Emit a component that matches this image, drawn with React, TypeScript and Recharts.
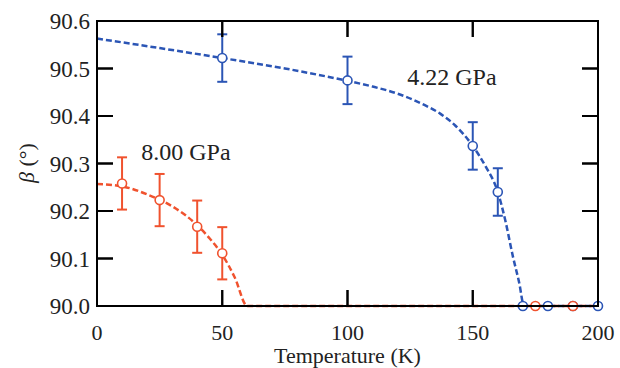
import { ComposedChart, Line, Scatter, ErrorBar, XAxis, YAxis, ReferenceDot } from 'recharts';

// measured points (T in K, beta in degrees)
const bluePressure = '4.22 GPa';
const blueT = [50, 100, 150, 160, 170, 180, 190, 200];
const blueBeta = [90.522, 90.475, 90.337, 90.24, 90.0, 90.0, 90.0, 90.0];
const blueErr = [0.05, 0.05, 0.05, 0.05, 0, 0, 0, 0];

const orangePressure = '8.00 GPa';
const orangeT = [10, 25, 40, 50, 175, 190];
const orangeBeta = [90.258, 90.223, 90.167, 90.111, 90.0, 90.0];
const orangeErr = [0.055, 0.055, 0.055, 0.055, 0, 0];

// dashed guide curves
const blueCurveT = [0, 25, 50, 75, 100, 110, 120, 130, 137, 143, 150, 155, 160, 163, 166, 168.5, 170.5, 200];
const blueCurveBeta = [90.563, 90.543, 90.522, 90.5, 90.474, 90.462, 90.447, 90.425, 90.405, 90.38, 90.337, 90.295, 90.24, 90.18, 90.105, 90.05, 90.0, 90.0];
const orangeCurveT = [0, 10, 20, 30, 40, 45, 50, 55, 60, 200];
const orangeCurveBeta = [90.257, 90.252, 90.235, 90.21, 90.17, 90.142, 90.108, 90.06, 90.0, 90.0];

const xTicks = [0, 50, 100, 150, 200];
const yTicks = [90.0, 90.1, 90.2, 90.3, 90.4, 90.5, 90.6];
const xDomain = [0, 200];
const yDomain = [90.0, 90.6];

const BLUE = '#2b55b5';
const ORANGE = '#f0522e';
const FONT = '"Liberation Serif", "DejaVu Serif", serif';
const TICK = 16;
const W = 620;
const H = 368;
const margin = { top: 1, right: 2, bottom: 0, left: 0 };
const Y_AXIS_W = 97;
const X_AXIS_H = 62;
const MIRROR = 20; // size of the top / right mirror axes
const frame = { stroke: '#000', strokeWidth: 2 };
const tickLine = { stroke: '#000', strokeWidth: 2 };

const zip = (t: number[], b: number[], e?: number[]) =>
  t.map((x, i) => ({ t: x, beta: b[i], err: e ? e[i] : 0 }));

const blueData = zip(blueT, blueBeta, blueErr);
const orangeData = zip(orangeT, orangeBeta, orangeErr);
const blueCurve = zip(blueCurveT, blueCurveBeta);
const orangeCurve = zip(orangeCurveT, orangeCurveBeta);

// plot box, from the margins and axis sizes above
const PL = margin.left + Y_AXIS_W;
const PR = W - margin.right - MIRROR;
const PT = margin.top + MIRROR;
const PB = H - margin.bottom - X_AXIS_H;
const sx = (v: number) => PL + ((v - xDomain[0]) / (xDomain[1] - xDomain[0])) * (PR - PL);
const sy = (v: number) => PB - ((v - yDomain[0]) / (yDomain[1] - yDomain[0])) * (PB - PT);

// closed box with inward ticks on all four sides, laid over the chart
const Frame = () => (
  <svg width={W} height={H} style={{ position: 'absolute', left: 0, top: 0, pointerEvents: 'none' }}>
    <g stroke="#000" strokeWidth={2} fill="none">
      <rect x={PL} y={PT} width={PR - PL} height={PB - PT} />
      {xTicks.slice(1, -1).map((v) => (
        <g key={`x${v}`}>
          <line x1={sx(v)} y1={PB} x2={sx(v)} y2={PB - TICK} />
          <line x1={sx(v)} y1={PT} x2={sx(v)} y2={PT + TICK} />
        </g>
      ))}
      {yTicks.slice(1, -1).map((v) => (
        <g key={`y${v}`}>
          <line x1={PL} y1={sy(v)} x2={PL + TICK} y2={sy(v)} />
          <line x1={PR} y1={sy(v)} x2={PR - TICK} y2={sy(v)} />
        </g>
      ))}
    </g>
  </svg>
);

const BottomTick = ({ x, y, payload }: any) => (
  <text x={x} y={y + 34} textAnchor="middle" fontFamily={FONT} fontSize={22} fill="#222">
    {payload.value}
  </text>
);

const LeftTick = ({ x, y, payload }: any) => (
  <text x={x - 7} y={y + 8} textAnchor="end" fontFamily={FONT} fontSize={23} fill="#222">
    {Number(payload.value).toFixed(1)}
  </text>
);

const NoLabel = () => <g />;

const BlueDot = (p: any) => <circle cx={p.cx} cy={p.cy} r={4.5} fill="#fff" stroke={BLUE} strokeWidth={1.6} />;
const OrangeDot = (p: any) => <circle cx={p.cx} cy={p.cy} r={4.5} fill="#fff" stroke={ORANGE} strokeWidth={1.6} />;

const XLabel = ({ viewBox }: any) => (
  <text x={viewBox.x + viewBox.width / 2} y={viewBox.y + 57} textAnchor="middle" fontFamily={FONT} fontSize={22} fill="#222">
    Temperature (K)
  </text>
);

const YLabel = () => (
  <text x={26} y={163} transform="rotate(-90 26 163)" textAnchor="middle" dominantBaseline="central" fontFamily={FONT} fontSize={22} fill="#222">
    <tspan fontStyle="italic">β</tspan> (°)
  </text>
);

const BlueTag = ({ viewBox }: any) => (
  <text x={viewBox.cx ?? viewBox.x} y={(viewBox.cy ?? viewBox.y) + 8} textAnchor="middle" fontFamily={FONT} fontSize={24} fill="#222">
    {bluePressure}
  </text>
);
const OrangeTag = ({ viewBox }: any) => (
  <text x={viewBox.cx ?? viewBox.x} y={(viewBox.cy ?? viewBox.y) + 8} textAnchor="middle" fontFamily={FONT} fontSize={24} fill="#222">
    {orangePressure}
  </text>
);

const xLabelProps = { content: XLabel };
const yLabelProps = { content: YLabel };
const blueTagProps = { content: BlueTag };
const orangeTagProps = { content: OrangeTag };

export default function App() {
  return (
    <div style={{ position: 'absolute', left: 0, top: 0, width: W, height: H }}>
      <ComposedChart width={W} height={H} margin={margin}>
        <XAxis
          dataKey="t"
          type="number"
          domain={xDomain}
          ticks={xTicks}
          height={X_AXIS_H}
          tickSize={-TICK}
          tickMargin={TICK}
          tickLine={tickLine}
          axisLine={frame}
          tick={BottomTick}
          label={xLabelProps}
        />
        <XAxis
          xAxisId="top"
          orientation="top"
          dataKey="t"
          type="number"
          domain={xDomain}
          ticks={xTicks}
          height={MIRROR}
          tickSize={-TICK}
          tickLine={tickLine}
          axisLine={frame}
          tick={NoLabel}
        />
        <YAxis
          type="number"
          domain={yDomain}
          ticks={yTicks}
          width={Y_AXIS_W}
          tickSize={-TICK}
          tickMargin={TICK}
          tickLine={tickLine}
          axisLine={frame}
          tick={LeftTick}
          label={yLabelProps}
        />
        <YAxis
          yAxisId="right"
          orientation="right"
          type="number"
          domain={yDomain}
          ticks={yTicks}
          width={MIRROR}
          tickSize={-TICK}
          tickLine={tickLine}
          axisLine={frame}
          tick={NoLabel}
        />
        {/* blue guide curve sits on the mirror axes (same domains as the main ones) */}
        <Line
          xAxisId="top"
          yAxisId="right"
          data={blueCurve}
          dataKey="beta"
          type="monotone"
          stroke={BLUE}
          strokeWidth={2.5}
          strokeDasharray="6 3"
          dot={false}
          isAnimationActive={false}
        />
        <Line
          data={orangeCurve}
          dataKey="beta"
          type="monotone"
          stroke={ORANGE}
          strokeWidth={2.5}
          strokeDasharray="6 3"
          dot={false}
          isAnimationActive={false}
        />
        <Scatter data={blueData} dataKey="beta" shape={BlueDot} isAnimationActive={false}>
          <ErrorBar dataKey="err" direction="y" width={5} stroke={BLUE} strokeWidth={2} />
        </Scatter>
        <Scatter data={orangeData} dataKey="beta" shape={OrangeDot} isAnimationActive={false}>
          <ErrorBar dataKey="err" direction="y" width={5} stroke={ORANGE} strokeWidth={2} />
        </Scatter>
        <ReferenceDot x={141.7} y={90.482} r={0} ifOverflow="visible" label={blueTagProps} />
        <ReferenceDot x={35.5} y={90.324} r={0} ifOverflow="visible" label={orangeTagProps} />
      </ComposedChart>
      <Frame />
    </div>
  );
}
